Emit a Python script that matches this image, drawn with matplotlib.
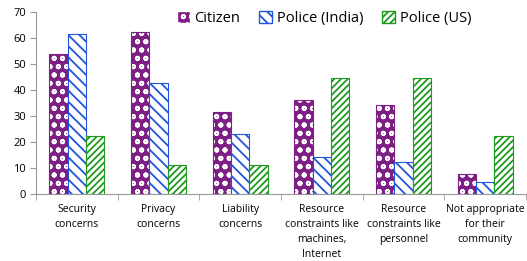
import numpy as np
import matplotlib.pyplot as plt
from matplotlib.patches import Patch

categories = ["Security\nconcerns", "Privacy\nconcerns", "Liability\nconcerns",
              "Resource\nconstraints like\nmachines,\nInternet",
              "Resource\nconstraints like\npersonnel",
              "Not appropriate\nfor their\ncommunity"]
citizen = [54.1, 62.6, 31.4, 36.4, 34.3, 7.6]
police_india = [61.6, 42.7, 23.0, 14.1, 12.2, 4.5]
police_us = [22.4, 11.2, 11.2, 44.7, 44.7, 22.4]
series_names = ["Citizen", "Police (India)", "Police (US)"]

plt.rcParams['font.family'] = ['Open Sans', 'DejaVu Sans']
plt.rcParams['hatch.linewidth'] = 1.3

fig = plt.figure(figsize=(5.27, 2.61), dpi=100)
ax = fig.add_axes([36 / 527, 1 - 194 / 261, 1 - 36 / 527 - 0.002, (194 - 12.3) / 261])

x = np.arange(len(categories))
w = 0.224
purple = "#7E1F86"
blue = "#2255DD"
green = "#1E9A1E"

# citizen: purple with white circles
ax.bar(x - w, citizen, w, color=purple, edgecolor="white", hatch="oo", linewidth=0)
ax.bar(x - w, citizen, w, fill=False, edgecolor=purple, linewidth=0.8)
ax.bar(x, police_india, w, color="white", edgecolor=blue, hatch="\\\\\\", linewidth=0.8)
ax.bar(x + w, police_us, w, color="white", edgecolor=green, hatch="/////", linewidth=0.8)

# legend proxies
handles = [
    Patch(facecolor=purple, edgecolor="white", hatch="oo"),
    Patch(facecolor="white", edgecolor=blue, hatch="\\\\\\"),
    Patch(facecolor="white", edgecolor=green, hatch="/////"),
]
ax.legend(handles, series_names, loc="upper right", ncol=3, frameon=False,
          fontsize=10.5, handlelength=0.9, handleheight=0.9, handletextpad=0.3,
          columnspacing=1.3, bbox_to_anchor=(0.9, 1.04), borderaxespad=0)

ax.set_xlim(-0.5, len(categories) - 0.5)
ax.set_ylim(0, 70)
ax.set_yticks(range(0, 71, 10))
ax.set_xticks(x)
ax.set_xticklabels(categories, fontsize=7.5, linespacing=1.5)
ax.set_xticks(np.arange(-0.5, len(categories), 1), minor=True)
ax.tick_params(axis="x", which="major", length=0, pad=7)
ax.tick_params(axis="x", which="minor", length=4, color="#999999")
ax.tick_params(axis="y", labelsize=8, length=4, color="#999999", pad=3)
for s in ["top", "right"]:
    ax.spines[s].set_visible(False)
for s in ["left", "bottom"]:
    ax.spines[s].set_color("#999999")

fig.savefig("out.png", dpi=100)
